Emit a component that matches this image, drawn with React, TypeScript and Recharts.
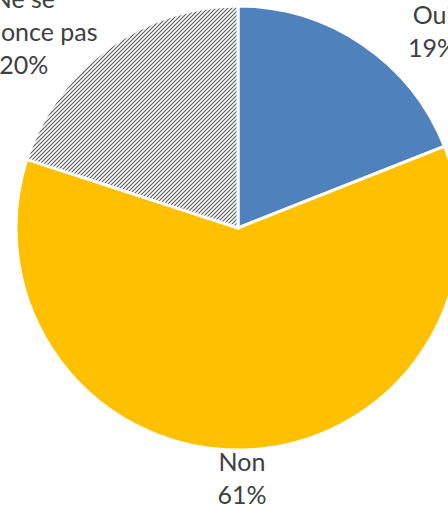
import React from "react";
import { PieChart, Pie, Cell } from "recharts";

const categories = ["Oui", "Non", "Ne se\nprononce pas"];
const shares = [19, 61, 20];

const fills = ["#4F81BD", "#FFC000", "url(#hatch)"];
// small per-label nudges so the labels sit where Excel placed them
const labelNudge = [
  { dx: 53, dy: 12 },
  { dx: -4, dy: -1 },
  { dx: -66, dy: 8 },
];

const data = categories.map((name, i) => ({ name, value: shares[i] }));

const RADIAN = Math.PI / 180;
const FONT = 25;
const LINE_H = 33;

const renderLabel = (props: any) => {
  const { cx, cy, midAngle, outerRadius, percent, index } = props;
  const r = outerRadius + 30;
  const x = cx + r * Math.cos(-midAngle * RADIAN) + labelNudge[index].dx;
  const y = cy + r * Math.sin(-midAngle * RADIAN) + labelNudge[index].dy;
  const lines = [...categories[index].split("\n"), `${Math.round(percent * 100)}%`];
  const firstBaseline = y - ((lines.length - 1) * LINE_H) / 2 + FONT * 0.35;
  return (
    <text
      x={x}
      y={firstBaseline}
      textAnchor="middle"
      fill="#404040"
      fontSize={FONT}
      fontFamily="Lato, 'Open Sans', sans-serif"
    >
      {lines.map((line, i) => (
        <tspan key={i} x={x} dy={i === 0 ? 0 : LINE_H}>
          {line}
        </tspan>
      ))}
    </text>
  );
};

export default function App() {
  return (
    <div style={{ position: "absolute", left: 0, top: 0, width: 448, height: 506, background: "#fff" }}>
      <svg width={0} height={0} style={{ position: "absolute" }}>
        <defs>
          <pattern id="hatch" patternUnits="userSpaceOnUse" width={4} height={4}>
            <rect width={4} height={4} fill="#fff" />
            <path
              d="M-1,1 l2,-2 M0,4 l4,-4 M3,5 l2,-2"
              stroke="#595959"
              strokeWidth={1.1}
            />
          </pattern>
        </defs>
      </svg>
      <PieChart width={448} height={506} margin={{ top: 0, right: 0, bottom: 0, left: 0 }}>
        <Pie
          data={data}
          dataKey="value"
          nameKey="name"
          cx={238}
          cy={228}
          outerRadius={222}
          startAngle={90}
          endAngle={-270}
          stroke="#fff"
          strokeWidth={3}
          label={renderLabel}
          labelLine={false}
          isAnimationActive={false}
        >
          {data.map((entry, index) => (
            <Cell key={entry.name} fill={fills[index]} />
          ))}
        </Pie>
      </PieChart>
    </div>
  );
}
